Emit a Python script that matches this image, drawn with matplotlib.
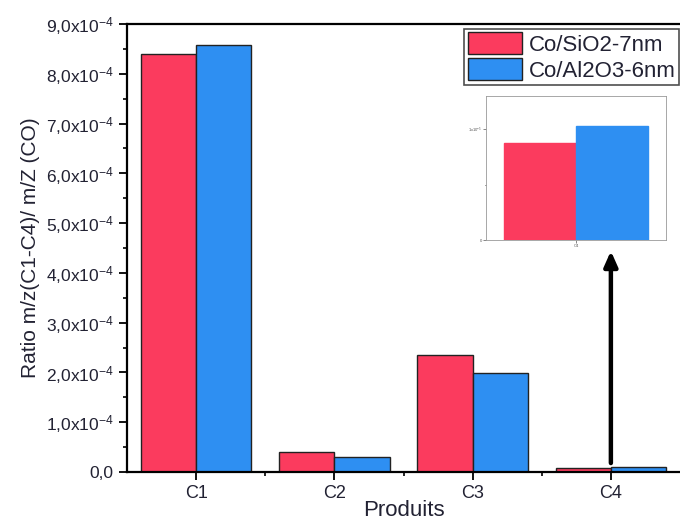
import matplotlib
matplotlib.use("Agg")
import matplotlib.pyplot as plt
from matplotlib.ticker import MultipleLocator, FuncFormatter, FixedLocator
import numpy as np

plt.rcParams['font.family'] = ['Liberation Sans', 'DejaVu Sans']
plt.rcParams['mathtext.fontset'] = 'custom'
plt.rcParams['mathtext.rm'] = 'Liberation Sans'
plt.rcParams['mathtext.it'] = 'Liberation Sans:italic'
plt.rcParams['mathtext.default'] = 'regular'

categories = ["C1", "C2", "C3", "C4"]
series_names = ["Co/SiO2-7nm", "Co/Al2O3-6nm"]
sio2_values = [8.39e-4, 0.40e-4, 2.36e-4, 0.088e-4]
al2o3_values = [8.57e-4, 0.30e-4, 1.99e-4, 0.103e-4]
inset_category = "C4"

red = "#FB3B5E"
blue = "#2E8FF2"
txt = "#222233"

fig = plt.figure(figsize=(6.8, 5.24), dpi=100)
ax = fig.add_axes([0.1868, 0.0992, 0.8132, 0.855])

x = np.arange(1, len(categories) + 1)
w = 0.4
ax.bar(x - w / 2, sio2_values, w, color=red, edgecolor="#222222", linewidth=1.0, label=series_names[0])
ax.bar(x + w / 2, al2o3_values, w, color=blue, edgecolor="#222222", linewidth=1.0, label=series_names[1])

ax.set_xlim(0.5, 4.5)
ax.set_ylim(0, 9e-4)
ax.set_xticks(x)
ax.set_xticklabels(categories)
ax.xaxis.set_minor_locator(FixedLocator([1.5, 2.5, 3.5]))
ax.yaxis.set_major_locator(MultipleLocator(1e-4))
ax.yaxis.set_minor_locator(MultipleLocator(0.5e-4))

def yfmt(v, pos):
    m = v / 1e-4
    if abs(m) < 1e-9:
        return "0,0"
    return f"{m:.1f}".replace(".", ",") + "x10$^{-4}$"

ax.yaxis.set_major_formatter(FuncFormatter(yfmt))
ax.tick_params(axis="both", which="major", direction="out", length=6, width=1.3, labelsize=12.5,
               colors="black", labelcolor=txt)
ax.tick_params(axis="both", which="minor", direction="out", length=3, width=1.2)
ax.tick_params(axis="x", which="major", labelsize=13, pad=3)
for s in ["left", "bottom", "top"]:
    ax.spines[s].set_linewidth(1.6)
ax.spines["right"].set_visible(False)

ax.set_xlabel("Produits", fontsize=16, labelpad=-1, color=txt)
ax.set_ylabel("Ratio m/z(C1-C4)/ m/Z (CO)", fontsize=15, labelpad=4, color=txt)

leg = ax.legend(loc="upper right", bbox_to_anchor=(1.0, 0.992), fontsize=16, frameon=True, fancybox=False,
                edgecolor="#222222", handlelength=2.45, handleheight=1.15, labelspacing=0.12,
                borderpad=0.15, handletextpad=0.3, borderaxespad=0.05)
leg.get_frame().set_linewidth(1.2)
for t in leg.get_texts():
    t.set_color(txt)

# arrow pointing to inset
ax.annotate("", xy=(4, 4.44e-4), xytext=(4, 0.18e-4),
            arrowprops=dict(arrowstyle="-|>,head_length=0.45,head_width=0.2", color="black",
                            lw=3.2, mutation_scale=20, shrinkA=0, shrinkB=0))

# inset
ins = fig.add_axes([486 / 680, 1 - 240 / 524, 180 / 680, 144 / 524])
ins.bar([-w / 2], [sio2_values[3]], w, color=red, edgecolor=red)
ins.bar([w / 2], [al2o3_values[3]], w, color=blue, edgecolor=blue)
ins.set_xlim(-0.5, 0.5)
ins.set_ylim(0, 1.3e-5)
ins.set_xticks([0])
ins.set_xticklabels([inset_category])
ins.set_yticks([0, 1e-5])
ins.set_yticklabels(["0", "1x10$^{-5}$"])
ins.yaxis.set_minor_locator(FixedLocator([0.5e-5]))
ins.tick_params(axis="both", which="major", length=2, width=0.5, labelsize=3, colors="#555555", pad=1)
ins.tick_params(axis="both", which="minor", length=1, width=0.5)
for s in ins.spines.values():
    s.set_linewidth(0.6)
    s.set_color("#999999")

fig.savefig("out.png", dpi=100)
